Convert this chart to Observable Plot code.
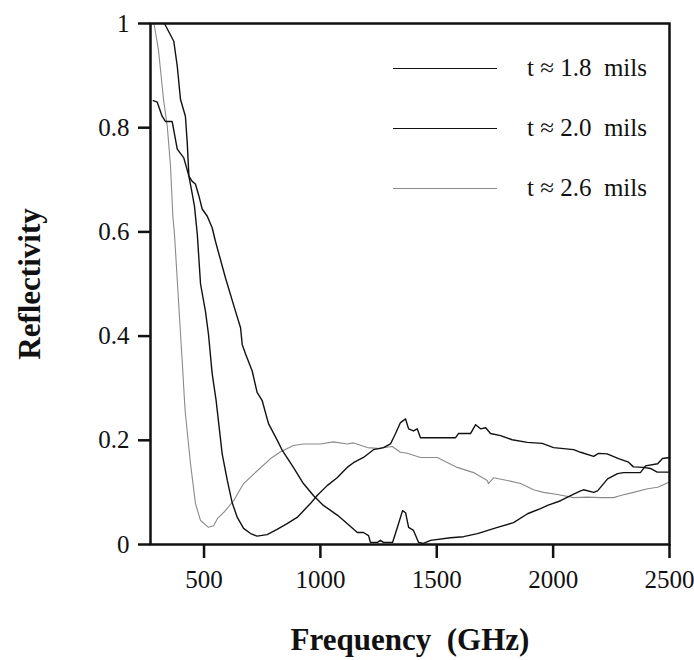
<!DOCTYPE html>
<html>
<head>
<meta charset="utf-8">
<script src="https://cdn.jsdelivr.net/npm/d3@7"></script>
<script src="https://cdn.jsdelivr.net/npm/@observablehq/plot@0.6"></script>
<style>
  html, body { margin: 0; padding: 0; background: #fff; }
  #wrap { position: relative; width: 694px; height: 660px; font-family: "Liberation Serif", "Tinos", "Times New Roman", Times, "DejaVu Serif", serif; }
  #wrap svg text { font-family: "Liberation Serif", "Tinos", "Times New Roman", Times, "DejaVu Serif", serif; }
  #legend { position: absolute; left: 0; top: 0; width: 694px; height: 660px; pointer-events: none; }
  .row { position: absolute; left: 393px; height: 0; }
  .row .ln { position: absolute; left: 0; width: 104px; top: -1px; }
  .row .tx { position: absolute; left: 134px; top: -15px; font-size: 25px; line-height: 28px; white-space: pre; color: #111; }
</style>
</head>
<body>
<div id="wrap">
  <div id="chart"></div>
  <div id="legend"></div>
</div>
<script>
// Tick values
const xTicks = [500, 1000, 1500, 2000, 2500];
const yTicks = [0, 0.2, 0.4, 0.6, 0.8, 1];

// Series names
const seriesNames = ["t \u2248 1.8 mils", "t \u2248 2.0 mils", "t \u2248 2.6 mils"];

// t ≈ 1.8 mils (starts at ~0.85, deep minimum near 1300 GHz)
const freq18 = [282, 299, 320, 334, 363, 385, 413, 435, 449, 463, 478, 492, 514, 535, 549, 592, 635, 657, 664, 678, 707, 728, 750, 777, 816, 837, 884, 927, 970, 1013, 1074, 1116, 1159, 1185, 1207, 1215, 1245, 1258, 1271, 1310, 1331, 1353, 1366, 1379, 1400, 1422, 1443, 1473, 1559, 1615, 1675, 1761, 1830, 1890, 1946, 1976, 2032, 2075, 2118, 2131, 2174, 2191, 2234, 2277, 2302, 2375, 2397, 2449, 2470, 2500];
const refl18 = [0.852, 0.849, 0.822, 0.812, 0.812, 0.759, 0.742, 0.707, 0.697, 0.692, 0.669, 0.644, 0.630, 0.608, 0.582, 0.512, 0.448, 0.416, 0.384, 0.366, 0.333, 0.292, 0.276, 0.232, 0.199, 0.180, 0.148, 0.117, 0.094, 0.075, 0.056, 0.040, 0.023, 0.023, 0.017, 0.004, 0.004, 0.008, 0.004, 0.004, 0.033, 0.065, 0.061, 0.033, 0.027, 0.004, 0.002, 0.008, 0.013, 0.015, 0.021, 0.033, 0.042, 0.059, 0.069, 0.075, 0.084, 0.094, 0.103, 0.105, 0.100, 0.103, 0.126, 0.136, 0.138, 0.138, 0.151, 0.155, 0.165, 0.167];

// t ≈ 2.0 mils (starts at 1.0, minimum near 720 GHz, peak near 1360 GHz)
const freq20 = [330, 370, 385, 399, 420, 428, 435, 449, 459, 471, 485, 506, 519, 535, 552, 578, 600, 621, 643, 670, 700, 728, 771, 814, 857, 900, 958, 986, 1029, 1072, 1115, 1142, 1185, 1228, 1271, 1301, 1323, 1344, 1366, 1379, 1400, 1416, 1430, 1452, 1581, 1593, 1645, 1667, 1688, 1710, 1731, 1774, 1824, 1889, 1953, 2002, 2088, 2118, 2174, 2195, 2232, 2281, 2324, 2345, 2388, 2418, 2447, 2500];
const refl20 = [1.0, 0.966, 0.918, 0.854, 0.822, 0.770, 0.707, 0.674, 0.649, 0.596, 0.500, 0.448, 0.404, 0.328, 0.276, 0.174, 0.123, 0.080, 0.052, 0.031, 0.021, 0.016, 0.019, 0.029, 0.040, 0.052, 0.079, 0.094, 0.113, 0.128, 0.148, 0.157, 0.167, 0.182, 0.186, 0.193, 0.213, 0.234, 0.241, 0.222, 0.218, 0.222, 0.205, 0.205, 0.205, 0.213, 0.213, 0.230, 0.222, 0.224, 0.213, 0.209, 0.201, 0.196, 0.194, 0.186, 0.182, 0.177, 0.169, 0.175, 0.174, 0.165, 0.158, 0.149, 0.148, 0.146, 0.139, 0.139];

// t ≈ 2.6 mils (starts at 1.0, minimum near 540 GHz)
const freq26 = [285, 304, 326, 342, 356, 366, 373, 386, 399, 408, 416, 420, 442, 463, 485, 519, 541, 558, 584, 627, 670, 730, 786, 829, 884, 927, 1000, 1056, 1116, 1142, 1202, 1258, 1271, 1309, 1344, 1373, 1430, 1502, 1588, 1658, 1717, 1722, 1744, 1803, 1860, 1916, 1959, 2019, 2088, 2148, 2204, 2260, 2290, 2345, 2406, 2449, 2500];
const refl26 = [1.0, 0.950, 0.854, 0.803, 0.726, 0.630, 0.596, 0.500, 0.404, 0.339, 0.276, 0.251, 0.155, 0.079, 0.046, 0.033, 0.036, 0.050, 0.061, 0.084, 0.117, 0.142, 0.165, 0.178, 0.190, 0.193, 0.193, 0.197, 0.193, 0.195, 0.186, 0.184, 0.186, 0.188, 0.177, 0.175, 0.167, 0.167, 0.148, 0.138, 0.123, 0.117, 0.128, 0.123, 0.117, 0.105, 0.100, 0.096, 0.090, 0.091, 0.090, 0.090, 0.094, 0.100, 0.107, 0.110, 0.120];

const seriesStyle = [
  {stroke: "#111", strokeWidth: 1.4},
  {stroke: "#111", strokeWidth: 1.4},
  {stroke: "#8a8a8a", strokeWidth: 1.1}
];

const FONT = "'Liberation Serif', 'Tinos', 'Times New Roman', Times, 'DejaVu Serif', serif";

const toRows = (fs, rs, name) => fs.map((f, i) => ({f, r: rs[i], name}));
const d18 = toRows(freq18, refl18, seriesNames[0]);
const d20 = toRows(freq20, refl20, seriesNames[1]);
const d26 = toRows(freq26, refl26, seriesNames[2]);

const plot = Plot.plot({
  width: 694,
  height: 660,
  marginTop: 23,
  marginRight: 25,
  marginBottom: 116,
  marginLeft: 150,
  style: {fontFamily: FONT, fontSize: "25px", color: "#111", background: "#fff"},
  x: {domain: [270, 2500]},
  y: {domain: [0, 1]},
  marks: [
    Plot.line(d26, {x: "f", y: "r", ...seriesStyle[2], strokeLinejoin: "round"}),
    Plot.line(d20, {x: "f", y: "r", ...seriesStyle[1], strokeLinejoin: "round"}),
    Plot.line(d18, {x: "f", y: "r", ...seriesStyle[0], strokeLinejoin: "round"}),
    Plot.frame({stroke: "#111", strokeWidth: 2.5}),
    Plot.axisX({ticks: xTicks, tickSize: 14, tickPadding: 12, strokeWidth: 2.5, tickFormat: d => String(d), fontSize: 25, label: null}),
    Plot.axisY({ticks: yTicks, tickSize: 12, tickPadding: 9, strokeWidth: 2.5, tickFormat: d => String(d), fontSize: 25, label: null}),
    Plot.text(["Frequency\u00a0\u00a0(GHz)"], {frameAnchor: "bottom", dy: 96, text: d => d, fontSize: 31, fontWeight: "bold", lineAnchor: "middle"}),
    Plot.text(["Reflectivity"], {frameAnchor: "left", dx: -120, rotate: -90, text: d => d, fontSize: 31, fontWeight: "bold", lineAnchor: "middle", textAnchor: "middle"})
  ]
});
document.getElementById("chart").appendChild(plot);

// Legend (inside the plot frame, upper right)
const legendTops = [69, 129, 189];
const legend = document.getElementById("legend");
seriesNames.forEach((name, i) => {
  const row = document.createElement("div");
  row.className = "row";
  row.style.top = legendTops[i] + "px";
  const ln = document.createElement("div");
  ln.className = "ln";
  ln.style.borderTop = seriesStyle[i].strokeWidth + "px solid " + seriesStyle[i].stroke;
  const tx = document.createElement("div");
  tx.className = "tx";
  tx.textContent = name.replace(/ /g, "  ").replace("t  \u2248  ", "t \u2248 ");
  row.appendChild(ln);
  row.appendChild(tx);
  legend.appendChild(row);
});
</script>
</body>
</html>
